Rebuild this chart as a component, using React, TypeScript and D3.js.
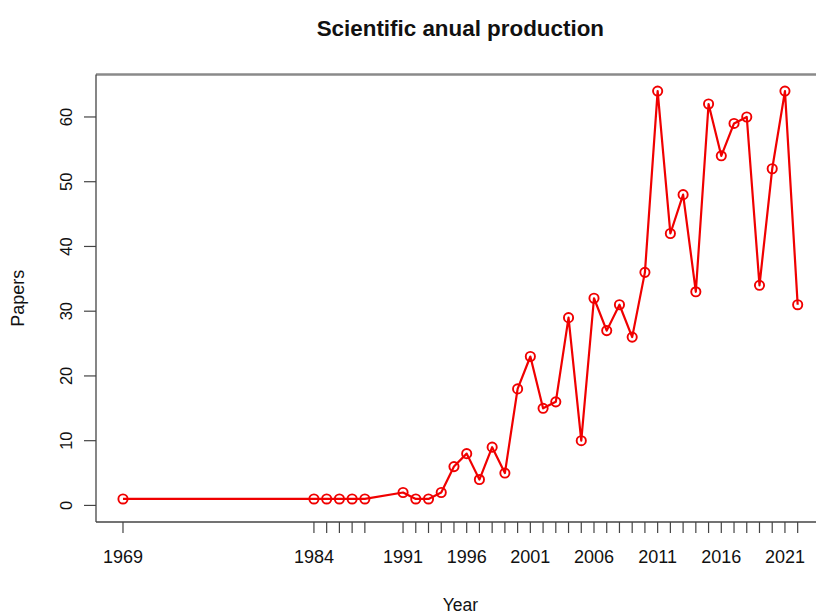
import React from "react";
import * as d3 from "d3";

const years = [1969, 1984, 1985, 1986, 1987, 1988, 1991, 1992, 1993, 1994, 1995, 1996, 1997, 1998, 1999, 2000, 2001, 2002, 2003, 2004, 2005, 2006, 2007, 2008, 2009, 2010, 2011, 2012, 2013, 2014, 2015, 2016, 2017, 2018, 2019, 2020, 2021, 2022];
const papers = [1, 1, 1, 1, 1, 1, 2, 1, 1, 2, 6, 8, 4, 9, 5, 18, 23, 15, 16, 29, 10, 32, 27, 31, 26, 36, 64, 42, 48, 33, 62, 54, 59, 60, 34, 52, 64, 31];
const xLabelYears = [1969, 1984, 1991, 1996, 2001, 2006, 2011, 2016, 2021];
const yTicks = [0, 10, 20, 30, 40, 50, 60];

const W = 816;
const H = 614;
const left = 96;
const top = 74.5;
const bottom = 522;

export default function App() {
  const xMin = d3.min(years)!;
  const xMax = d3.max(years)!;
  const yMax = d3.max(papers)!;
  const xPad = (xMax - xMin) * 0.04;
  const yPad = yMax * 0.04;
  const pxPerYear = 12.73;
  const right = left + (xMax - xMin + 2 * xPad) * pxPerYear;
  const x = d3.scaleLinear().domain([xMin - xPad, xMax + xPad]).range([left, right]);
  const y = d3.scaleLinear().domain([-yPad, yMax + yPad]).range([bottom, top]);
  const pts = years.map((yr, i) => [yr, papers[i]] as [number, number]);
  const line = d3.line<[number, number]>().x(d => x(d[0])).y(d => y(d[1]));
  const font = "'Liberation Sans', Arial, Helvetica, sans-serif";
  const cx = (left + right) / 2;
  const cy = (top + bottom) / 2;

  return (
    <svg width={W} height={H} style={{ position: "absolute", left: 0, top: 0, background: "#fff" }} fontFamily={font}>
      <rect x={0} y={0} width={W} height={H} fill="#fff" />
      <text x={cx} y={36} textAnchor="middle" fontSize={22.4} fontWeight="bold" fill="#111">Scientific anual production</text>
      {/* box */}
      <line x1={left} x2={right} y1={top} y2={top} stroke="#8a8a8a" strokeWidth={2.6} />
      <line x1={left} x2={left} y1={top} y2={bottom} stroke="#444" strokeWidth={1.3} />
      <line x1={left} x2={right} y1={bottom} y2={bottom} stroke="#444" strokeWidth={1.3} />
      <line x1={right} x2={right} y1={top} y2={bottom} stroke="#444" strokeWidth={1.3} />
      {/* x axis */}
      {years.map(yr => (
        <line key={yr} x1={x(yr)} x2={x(yr)} y1={bottom} y2={bottom + 11} stroke="#444" strokeWidth={1.2} />
      ))}
      {xLabelYears.map(yr => (
        <text key={yr} x={x(yr)} y={563} textAnchor="middle" fontSize={18} fill="#111">{yr}</text>
      ))}
      <text x={cx} y={611} textAnchor="middle" fontSize={17.5} fill="#111">Year</text>
      {/* y axis */}
      {yTicks.map(t => (
        <g key={t}>
          <line x1={left - 12} x2={left} y1={y(t)} y2={y(t)} stroke="#444" strokeWidth={1.2} />
          <text transform={`translate(72,${y(t)}) rotate(-90)`} textAnchor="middle" fontSize={16.5} fill="#111">{t}</text>
        </g>
      ))}
      <text transform={`translate(24,${cy}) rotate(-90)`} textAnchor="middle" fontSize={18} fill="#111">Papers</text>
      {/* series */}
      <path d={line(pts)!} fill="none" stroke="#f00000" strokeWidth={2.2} strokeLinejoin="round" />
      {pts.map((p, i) => (
        <circle key={i} cx={x(p[0])} cy={y(p[1])} r={4.6} fill="none" stroke="#f00000" strokeWidth={1.9} />
      ))}
    </svg>
  );
}
